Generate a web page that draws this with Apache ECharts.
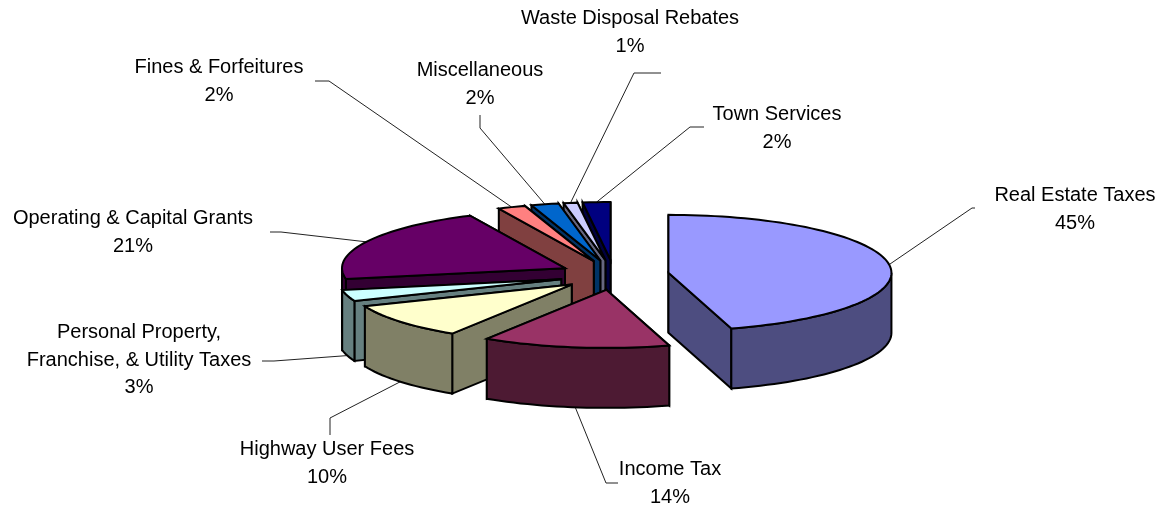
<!DOCTYPE html>
<html>
<head>
<meta charset="utf-8">
<style>
  html, body { margin: 0; padding: 0; background: #fff; }
  #chart { width: 1170px; height: 509px; }
</style>
</head>
<body>
<div id="chart"></div>
<script src="https://cdn.jsdelivr.net/npm/echarts@6/dist/echarts.min.js"></script>
<script>
// data, clockwise from 12 o'clock
var categories = [
  "Real Estate Taxes", "Income Tax", "Highway User Fees",
  "Personal Property,\nFranchise, & Utility Taxes", "Operating & Capital Grants",
  "Fines & Forfeitures", "Miscellaneous", "Waste Disposal Rebates", "Town Services"
];
var shares = [45.45, 13.55, 9.9, 3.1, 21, 2, 2, 1, 2];

// styles
var topColors = ["#9999FF", "#993366", "#FFFFCC", "#CCFFFF", "#660066", "#FF8080", "#0066CC", "#CCCCFF", "#000080"];
var sideColors = ["#4D4D80", "#4D1A33", "#808066", "#668080", "#330033", "#804040", "#003366", "#666680", "#000040"];

// label layout: centre x, middle y of the first line
var labelPos = [[1075, 196], [670, 470], [327, 450], [139, 333], [133, 219], [219, 68], [480, 71], [630, 19], [777, 115]];
// leader lines: start and elbow next to the label, the far end comes from the slice
var leaderStart = [[975, 208], [618, 483], [330, 435], [262, 361], [270, 232], [315, 81], [480, 115], [661, 73], [704, 127]];
var leaderElbow = [[972, 208], [606, 483], [330, 418], [274, 361], [281, 232], [329, 81], [480, 128], [634, 73], [690, 127]];

// pie geometry in pixels
var cx = 614, cy = 275, rx = 223, ry = 58, depth = 60;
var explodeX = 55, explodeY = 15;

var total = shares.reduce(function (a, b) { return a + b; }, 0);
var slices = [];
var acc = 0;
shares.forEach(function (v, i) {
  var start = acc / total * 360;
  acc += v;
  var end = acc / total * 360;
  var mid = (start + end) / 2 * Math.PI / 180;
  slices.push({
    start: start, end: end, mid: mid,
    ax: cx + explodeX * Math.sin(mid),
    ay: cy - explodeY * Math.cos(mid)
  });
});
// paint the back slices first
var order = slices.map(function (s, i) { return i; }).sort(function (p, q) {
  return Math.cos(slices[q].mid) - Math.cos(slices[p].mid);
});

function rim(s, deg, drop) {
  var t = deg * Math.PI / 180;
  return [s.ax + rx * Math.sin(t), s.ay - ry * Math.cos(t) + (drop || 0)];
}
function arc(s, from, to, drop) {
  var pts = [];
  var n = Math.max(2, Math.ceil((to - from) / 2));
  for (var i = 0; i <= n; i++) pts.push(rim(s, from + (to - from) * i / n, drop));
  return pts;
}
function poly(points, fill, z2) {
  return {
    type: "polygon",
    z2: z2,
    shape: { points: points },
    style: { fill: fill, stroke: "#000", lineWidth: 2, lineJoin: "miter", miterLimit: 6 }
  };
}
function radial(s, deg, fill, z2) {
  var p = rim(s, deg);
  return poly([[s.ax, s.ay], p, [p[0], p[1] + depth], [s.ax, s.ay + depth]], fill, z2);
}

function renderSlice(params, api) {
  var i = params.dataIndex;
  var s = slices[i];
  var rank = order.indexOf(i) * 10 + 10;
  var kids = [];

  // cut faces, the one further back first
  var backFirst = Math.cos(s.start * Math.PI / 180) > Math.cos(s.end * Math.PI / 180);
  kids.push(radial(s, backFirst ? s.start : s.end, sideColors[i], rank));
  kids.push(radial(s, backFirst ? s.end : s.start, sideColors[i], rank + 1));

  // outer wall, only the part facing the viewer
  var from = Math.max(s.start, 90), to = Math.min(s.end, 270);
  if (to > from) {
    kids.push(poly(arc(s, from, to, 0).concat(arc(s, from, to, depth).reverse()), sideColors[i], rank + 2));
  }
  // top face
  kids.push(poly([[s.ax, s.ay]].concat(arc(s, s.start, s.end, 0)), topColors[i], rank + 3));

  // leader line ends on the rim, at the wall foot for front slices
  var midDeg = (s.start + s.end) / 2;
  var end = rim(s, midDeg, midDeg > 90 && midDeg < 270 ? depth : 0);
  kids.push({
    type: "polyline",
    z2: 1,
    shape: { points: [leaderStart[i], leaderElbow[i], end] },
    style: { fill: null, stroke: "#222", lineWidth: 1 }
  });

  // label
  kids.push({
    type: "text",
    z2: 200,
    style: {
      x: labelPos[i][0],
      y: labelPos[i][1] - 14,
      text: categories[i] + "\n" + Math.round(api.value(0)) + "%",
      fill: "#000",
      font: '20px "Liberation Sans", Arial, sans-serif',
      lineHeight: 27.5,
      align: "center",
      verticalAlign: "top"
    }
  });
  return { type: "group", children: kids };
}

var myChart = echarts.init(document.getElementById("chart"), null, { renderer: "canvas" });
myChart.setOption({
  animation: false,
  backgroundColor: "#fff",
  series: [{
    type: "custom",
    coordinateSystem: "none",
    renderItem: renderSlice,
    data: shares.map(function (v, i) { return { name: categories[i], value: [v] }; })
  }]
});
</script>
</body>
</html>
